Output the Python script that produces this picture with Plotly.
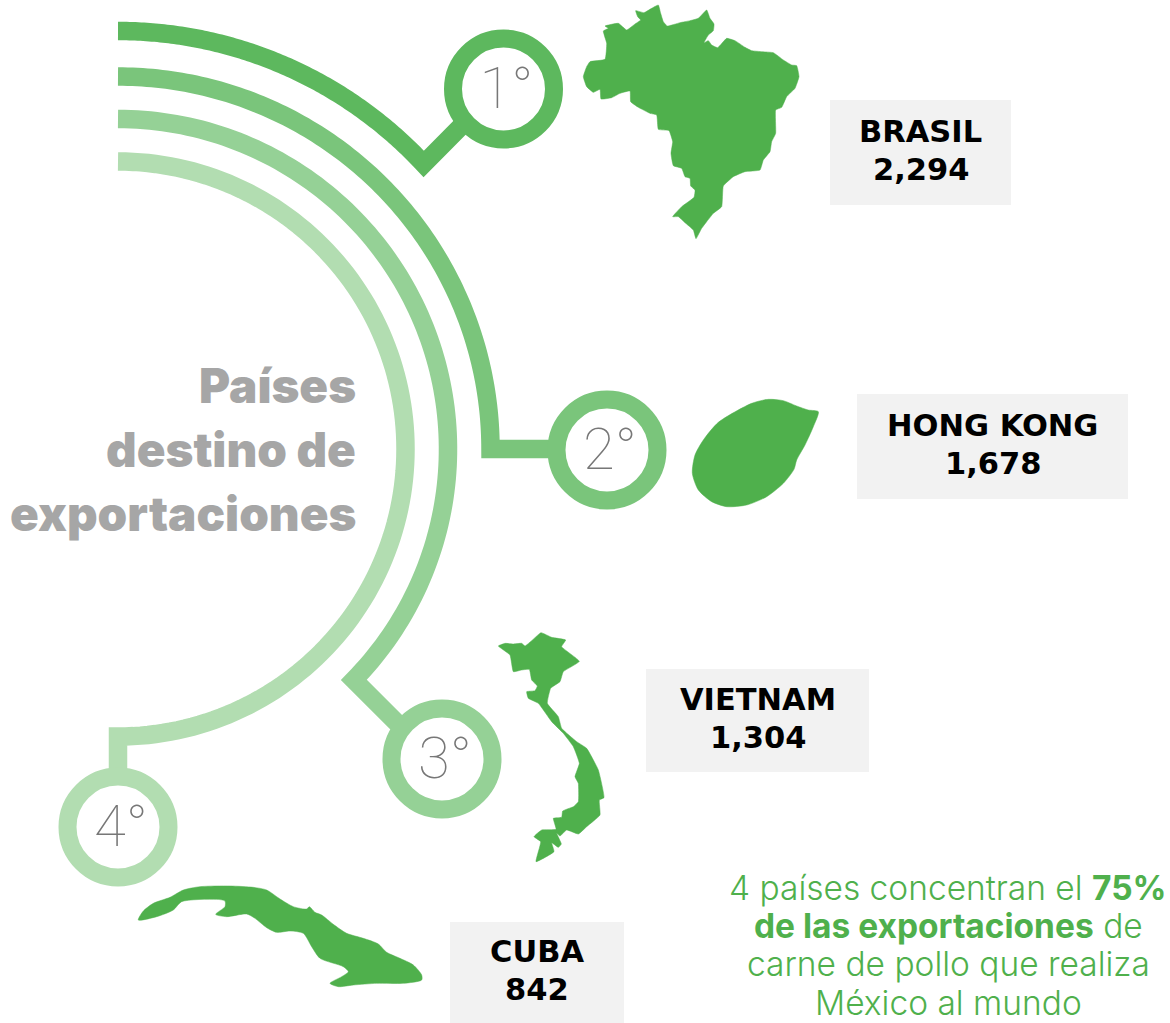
import math
import plotly.graph_objects as go

COUNTRIES = ["BRASIL", "HONG KONG", "VIETNAM", "CUBA"]
VOLUMES = [2294, 1678, 1304, 842]
RANKS = ["1°", "2°", "3°", "4°"]
TITLE_LINES = ["Países", "destino de", "exportaciones"]
NOTE_LINES = ["4 países concentran el <b>75%</b>", "<b>de las exportaciones</b> de",
              "carne de pollo que realiza", "México al mundo"]

RING_COLORS = ["#5DB85E", "#7AC57B", "#95D196", "#B2DDB1"]
MAP_COLOR = "#4FB04C"
GREY_BOX = "#F2F2F2"

CENTER = (118, 449)
RADII = [418, 372.5, 330, 287.5]
RING_X = [503.5, 607, 442, 118]
RING_Y = [89, 450, 759, 827]
LINK_END_X = [493, 607, 425, 118]
LINK_END_Y = [94, 449, 751, 827]
ARC_SWEEP = [47, 90, 134.4, 180]  # degrees swept clockwise from the top

BOX_X0 = [830, 857, 646, 450]
BOX_X1 = [1011, 1128, 869, 624]
BOX_Y0 = [100, 394, 669, 922]
BOX_Y1 = [205, 499, 772, 1023]
LABEL_X = [920.5, 992.5, 757.5, 537]

BRAZIL = [(265,15),(272,40),(280,65),(292,78),(330,68),(360,62),(385,55),(410,30),(420,55),(432,72),(430,92),(415,105),(402,128),(415,122),(425,135),(443,143),(470,115),(495,122),(525,142),(545,152),(575,155),(610,158),(640,180),(665,195),(680,197),(687,230),(675,265),(650,290),(635,322),(617,330),(617,400),(605,425),(600,455),(580,480),(570,510),(525,515),(490,530),(460,558),(455,620),(430,640),(410,665),(395,685),(378,716),(370,690),(345,668),(325,650),(308,650),(335,620),(372,592),(375,570),(362,558),(360,535),(345,530),(335,505),(310,497),(303,460),(308,425),(297,392),(265,388),(260,345),(240,340),(205,322),(182,305),(180,273),(150,280),(125,293),(93,297),(90,268),(70,277),(50,260),(40,230),(50,200),(60,185),(105,178),(110,130),(100,93),(115,85),(105,78),(145,70),(170,90),(195,72),(212,60),(203,50),(197,32),(222,38),(245,25)]
VIETNAM = [(183,38),(215,52),(257,60),(245,80),(298,124),(250,155),(240,185),(212,205),(202,250),(235,290),(245,325),(290,365),(320,385),(355,450),(372,533),(358,540),(360,585),(320,620),(295,642),(260,630),(240,648),(230,640),(244,672),(235,682),(215,668),(222,695),(168,725),(182,665),(162,650),(185,630),(228,628),(220,595),(245,592),(248,573),(280,560),(295,545),(295,490),(285,470),(298,430),(280,380),(250,340),(215,305),(175,250),(145,235),(140,215),(165,212),(172,198),(155,180),(148,148),(125,150),(100,155),(90,105),(55,78),(75,70),(100,72),(125,70),(135,78),(155,62)]
CUBA = [(25,135),(40,108),(70,85),(120,67),(160,45),(210,35),(300,33),(370,37),(410,45),(450,72),(490,95),(530,102),(538,95),(555,112),(575,120),(610,148),(650,175),(700,190),(745,207),(770,232),(810,250),(850,270),(875,300),(875,315),(820,325),(740,325),(670,330),(625,335),(600,325),(635,305),(655,290),(640,275),(570,250),(545,215),(520,175),(480,168),(440,172),(410,158),(375,130),(350,117),(290,125),(257,118),(285,95),(285,78),(260,73),(155,80),(130,105),(80,125)]
HONGKONG = [(415,65),(400,110),(375,165),(350,210),(342,238),(310,280),(260,320),(200,345),(140,350),(95,335),(55,300),(37,250),(45,195),(70,150),(115,97),(215,40),(265,28),(310,32),(350,48),(385,60)]
MAPS = [(BRAZIL, 570, 0, 0.35), (HONGKONG, 680, 390, 0.7), (VIETNAM, 480, 620, 0.35), (CUBA, 130, 875, 0.7)]

fig = go.Figure()

for i in range(4):
    fig.add_shape(type="rect", x0=BOX_X0[i], x1=BOX_X1[i], y0=BOX_Y0[i], y1=BOX_Y1[i],
                  fillcolor=GREY_BOX, line_width=0, layer="below")

for i in range(4):
    n = 120
    xs, ys = [], []
    for k in range(n + 1):
        a = math.radians(ARC_SWEEP[i] * k / n)
        xs.append(CENTER[0] + RADII[i] * math.sin(a))
        ys.append(CENTER[1] - RADII[i] * math.cos(a))
    xs.append(LINK_END_X[i])
    ys.append(LINK_END_Y[i])
    fig.add_trace(go.Scatter(x=xs, y=ys, mode="lines",
                             line=dict(color=RING_COLORS[i], width=18.5, simplify=False),
                             hoverinfo="skip", showlegend=False))

for i in range(4):
    fig.add_trace(go.Scatter(x=[RING_X[i]], y=[RING_Y[i]], mode="markers",
                             marker=dict(size=101, color="white", line=dict(color=RING_COLORS[i], width=18)),
                             hoverinfo="skip", showlegend=False))
    fig.add_trace(go.Scatter(x=[RING_X[i] + 3], y=[RING_Y[i] + 4], mode="text", text=[RANKS[i]],
                             textposition="middle center",
                             textfont=dict(family="Roboto", size=58, color="#777777", weight=100),
                             hoverinfo="skip", showlegend=False))

for pts, ox, oy, sm in MAPS:
    fig.add_trace(go.Scatter(x=[ox + p[0] / 3 for p in pts] + [ox + pts[0][0] / 3],
                             y=[oy + p[1] / 3 for p in pts] + [oy + pts[0][1] / 3],
                             mode="lines", fill="toself", fillcolor=MAP_COLOR,
                             line=dict(color=MAP_COLOR, width=0.5, shape="spline", smoothing=sm, simplify=False),
                             hoverinfo="skip", showlegend=False))

ann = []
for i in range(4):
    cy = (BOX_Y0[i] + BOX_Y1[i]) / 2
    ann.append(dict(x=LABEL_X[i], y=cy - 21, text=f"<b>{COUNTRIES[i]}</b>"))
    ann.append(dict(x=LABEL_X[i], y=cy + 17, text=f"<b>{VOLUMES[i]:,}</b>"))
annotations = [dict(a, xref="x", yref="y", showarrow=False, xanchor="center", yanchor="middle",
                    font=dict(family="DejaVu Sans", size=30.5, color="#000000")) for a in ann]

for line, y in zip(TITLE_LINES, [385, 449, 513]):
    annotations.append(dict(x=358, y=y, text=line, xref="x", yref="y", showarrow=False,
                            xanchor="right", yanchor="middle",
                            font=dict(family="Inter", size=47.5, color="#A6A6A6", weight=900)))

for line, y in zip(NOTE_LINES, [888, 926, 964, 1003]):
    annotations.append(dict(x=948, y=y, text=line, xref="x", yref="y", showarrow=False,
                            xanchor="center", yanchor="middle",
                            font=dict(family="Inter", size=33.5, color=MAP_COLOR, weight=300)))

fig.update_layout(
    width=1170, height=1023, margin=dict(l=0, r=0, t=0, b=0),
    paper_bgcolor="white", plot_bgcolor="white", showlegend=False,
    xaxis=dict(range=[0, 1170], visible=False, fixedrange=True),
    yaxis=dict(range=[1023, 0], visible=False, fixedrange=True),
    annotations=annotations,
)
fig.write_html("out.html", config={"displayModeBar": False},
               post_script="document.body.style.margin='0';")
